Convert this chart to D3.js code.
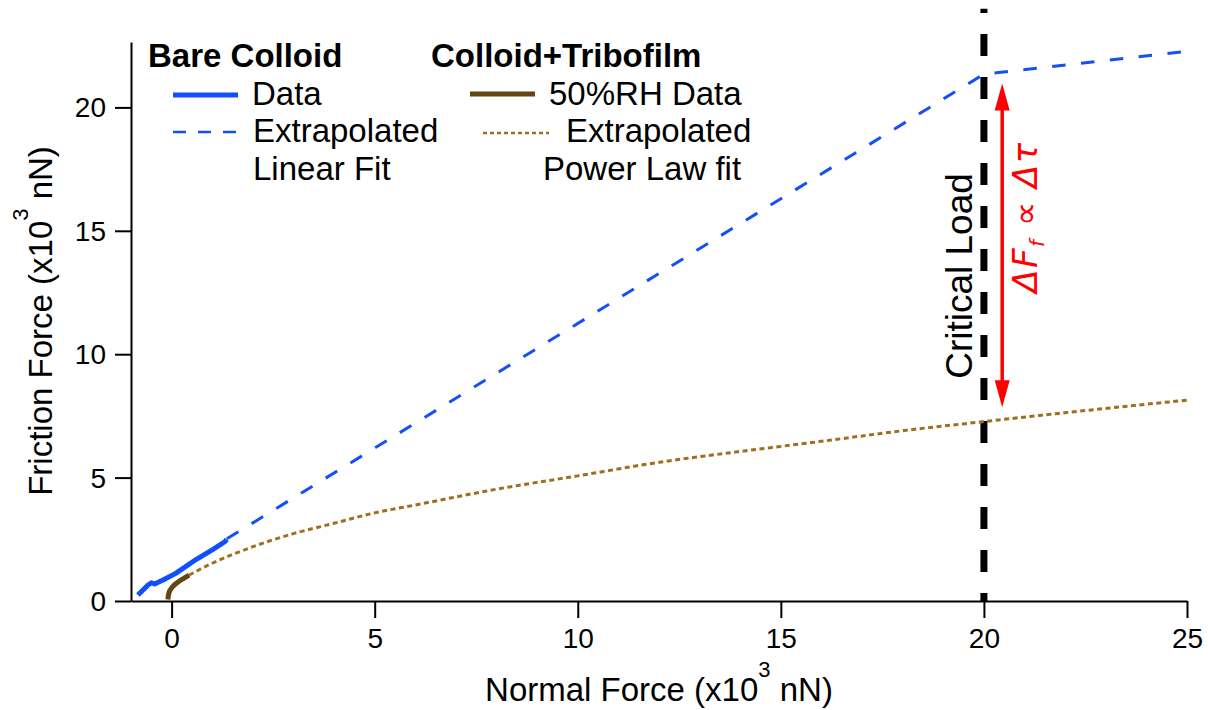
<!DOCTYPE html>
<html>
<head>
<meta charset="utf-8">
<script src="https://cdn.jsdelivr.net/npm/d3@7"></script>
<style>
  html, body { margin: 0; padding: 0; background: #fff; }
  svg { display: block; font-family: "Liberation Sans", Arial, sans-serif; }
</style>
</head>
<body>
<svg id="chart" width="1208" height="710"></svg>
<script>
// ---------- data ----------
const xTicks = [0, 5, 10, 15, 20, 25];
const yTicks = [0, 5, 10, 15, 20];

// Bare colloid measured data
const bareX = [-0.83, -0.58, -0.50, -0.42, -0.21, 0.10, 0.61, 1.00, 1.31, 1.36];
const bareY = [0.24, 0.65, 0.74, 0.69, 0.85, 1.12, 1.69, 2.07, 2.40, 2.50];

// Bare colloid extrapolated linear fit (kinks at critical load)
const linFitX = [1.36, 20, 25];
const linFitY = [2.52, 21.35, 22.27];

// Colloid + tribofilm 50%RH data
const triboX = [-0.09, -0.08, -0.05, 0.00, 0.07, 0.16, 0.28, 0.43];
const triboY = [0.06, 0.22, 0.40, 0.53, 0.65, 0.77, 0.90, 1.05];

// Colloid + tribofilm extrapolated power-law fit
const powFitX = [0.43, 1, 2, 3, 4, 5, 6, 8, 10, 12, 14, 16, 18, 20, 22, 25];
const powFitY = [1.05, 1.53, 2.20, 2.73, 3.15, 3.57, 3.89, 4.53, 5.07, 5.62, 6.06, 6.47, 6.90, 7.27, 7.63, 8.14];

// Critical load and friction-difference arrow
const criticalLoad = 20;
const arrowX = 20.45;
const arrowTop = 20.97;
const arrowBottom = 7.85;

// ---------- drawing ----------
const svg = d3.select("#chart");
const x = d3.scaleLinear().domain([-1, 25]).range([131, 1187]);
const y = d3.scaleLinear().domain([0, 22.65]).range([601, 42]);

const colBlue = "#0f4fff";
const colBlueFit = "#1450f5";
const colBrown = "#654514";
const colBrownFit = "#a06e1e";

const line = d3.line().x(d => x(d[0])).y(d => y(d[1]));
const smooth = d3.line().x(d => x(d[0])).y(d => y(d[1])).curve(d3.curveMonotoneX);
const zip = (a, b) => a.map((v, i) => [v, b[i]]);

// critical load line (behind curves)
svg.append("line")
  .attr("x1", x(criticalLoad)).attr("x2", x(criticalLoad))
  .attr("y1", y(0)).attr("y2", y(24))
  .attr("stroke", "#000").attr("stroke-width", 7)
  .attr("stroke-dasharray", "22,21").attr("stroke-dashoffset", 14);

// fits
svg.append("path").datum(zip(linFitX, linFitY)).attr("d", line)
  .attr("fill", "none").attr("stroke", colBlueFit).attr("stroke-width", 3)
  .attr("stroke-dasharray", "13.5,15.5");
svg.append("path").datum(zip(powFitX, powFitY)).attr("d", smooth)
  .attr("fill", "none").attr("stroke", colBrownFit).attr("stroke-width", 3)
  .attr("stroke-dasharray", "5,3.5");

// data
svg.append("path").datum(zip(bareX, bareY)).attr("d", line)
  .attr("fill", "none").attr("stroke", colBlue).attr("stroke-width", 5)
  .attr("stroke-linejoin", "round");
svg.append("path").datum(zip(triboX, triboY))
  .attr("d", d3.line().x(d => x(d[0])).y(d => y(d[1])).curve(d3.curveCatmullRom))
  .attr("fill", "none").attr("stroke", colBrown).attr("stroke-width", 5);

// axes
const yAxis = svg.append("g").attr("transform", `translate(${x(-1)},0)`)
  .call(d3.axisLeft(y).tickValues(yTicks).tickSize(16).tickSizeOuter(0).tickPadding(9).tickFormat(d3.format("d")));
const xAxis = svg.append("g").attr("transform", `translate(0,${y(0)})`)
  .call(d3.axisBottom(x).tickValues(xTicks).tickSize(17).tickSizeOuter(0).tickPadding(10).tickFormat(d3.format("d")));
[yAxis, xAxis].forEach(g => {
  g.select(".domain").attr("stroke", "#000").attr("stroke-width", 2);
  g.selectAll(".tick line").attr("stroke", "#000").attr("stroke-width", 2);
  g.selectAll(".tick text").attr("fill", "#000")
    .style("font-size", "28px").style("font-family", "'Liberation Sans', Arial, sans-serif");
});
yAxis.selectAll(".tick text").attr("dy", "0.34em");

// axis titles
const xt = svg.append("text").attr("x", 659).attr("y", 701)
  .attr("text-anchor", "middle").style("font-size", "33px");
xt.append("tspan").text("Normal Force (x10");
xt.append("tspan").attr("dy", -24).style("font-size", "22px").text("3");
xt.append("tspan").attr("dy", 24).text(" nN)");

const yt = svg.append("text").attr("transform", "translate(52,321) rotate(-90)")
  .attr("text-anchor", "middle").style("font-size", "33px");
yt.append("tspan").text("Friction Force (x10");
yt.append("tspan").attr("dy", -24).style("font-size", "22px").text("3");
yt.append("tspan").attr("dy", 24).text(" nN)");

// critical load label
svg.append("text").attr("transform", "translate(972,276) rotate(-90)")
  .attr("text-anchor", "middle").style("font-size", "37px").text("Critical Load");

// arrow
const ax = x(arrowX), at = y(arrowTop), ab = y(arrowBottom);
const headL = 27, headW = 7.5;
svg.append("line").attr("x1", ax).attr("x2", ax).attr("y1", at + headL - 2).attr("y2", ab - headL + 2)
  .attr("stroke", "#ff0000").attr("stroke-width", 3.5);
svg.append("path").attr("d", `M${ax},${at} L${ax - headW},${at + headL} L${ax + headW},${at + headL} Z`).attr("fill", "#ff0000");
svg.append("path").attr("d", `M${ax},${ab} L${ax - headW},${ab - headL} L${ax + headW},${ab - headL} Z`).attr("fill", "#ff0000");

const dl = svg.append("text").attr("transform", "translate(1037,217) rotate(-90)")
  .attr("text-anchor", "middle").attr("fill", "#ff0000")
  .style("font-size", "34px").style("font-style", "italic").style("letter-spacing", "1.5px")
  .style("font-family", "'DejaVu Sans', 'Liberation Sans', sans-serif");
dl.append("tspan").text("\u0394F");
dl.append("tspan").attr("dy", 7).style("font-size", "20px").text("f");
dl.append("tspan").attr("dy", -7).text(" \u221D \u0394\u03C4");

// legend
const leg = svg.append("g").style("font-size", "33px").attr("fill", "#000");
leg.append("text").attr("x", 148).attr("y", 67).style("font-weight", "bold").text("Bare Colloid");
leg.append("text").attr("x", 431).attr("y", 67).style("font-weight", "bold").text("Colloid+Tribofilm");
leg.append("line").attr("x1", 173).attr("x2", 238).attr("y1", 95).attr("y2", 95)
  .attr("stroke", colBlue).attr("stroke-width", 5);
leg.append("text").attr("x", 252).attr("y", 105).text("Data");
leg.append("line").attr("x1", 173).attr("x2", 238).attr("y1", 132).attr("y2", 132)
  .attr("stroke", colBlueFit).attr("stroke-width", 2.5).attr("stroke-dasharray", "13,12");
leg.append("text").attr("x", 253).attr("y", 142).text("Extrapolated");
leg.append("text").attr("x", 253).attr("y", 180).text("Linear Fit");
leg.append("line").attr("x1", 470).attr("x2", 535).attr("y1", 94).attr("y2", 94)
  .attr("stroke", colBrown).attr("stroke-width", 5);
leg.append("text").attr("x", 549).attr("y", 105).text("50%RH Data");
leg.append("line").attr("x1", 483).attr("x2", 549).attr("y1", 133).attr("y2", 133)
  .attr("stroke", colBrownFit).attr("stroke-width", 2.5).attr("stroke-dasharray", "4,3");
leg.append("text").attr("x", 566).attr("y", 142).text("Extrapolated");
leg.append("text").attr("x", 543).attr("y", 180).text("Power Law fit");
</script>
</body>
</html>
